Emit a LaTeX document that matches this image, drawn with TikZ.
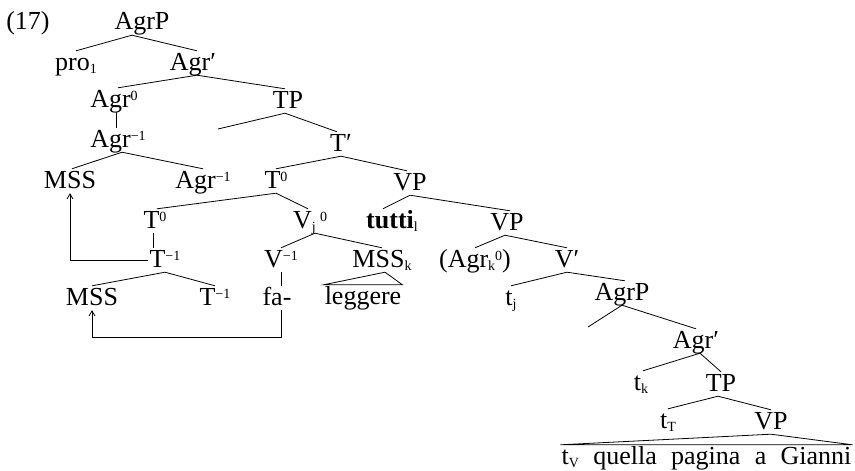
\documentclass[tikz,border=0pt]{standalone}
\usepackage{fontspec}
\setmainfont{Liberation Serif}
\usetikzlibrary{arrows.meta}
\newcommand{\supx}[1]{\raisebox{6.5pt}{\fontsize{14}{14}\selectfont #1}}
\newcommand{\subx}[1]{\raisebox{-3pt}{\fontsize{14}{14}\selectfont #1}}
\begin{document}
\begin{tikzpicture}[x=1pt,y=-1pt,
  lab/.style={font=\fontsize{26}{31}\selectfont, anchor=base, text height=17pt, text depth=3pt, inner xsep=1pt, inner ysep=2pt},
  br/.style={line width=0.8pt},
  mv/.style={line width=0.8pt, -{Straight Barb[length=5pt,width=6pt]}}]
\useasboundingbox (0,0) rectangle (855,471);
% nodes
\node[lab] (n17) at (28,30) {(17)};
\node[lab] (AgrP) at (142,30) {AgrP};
\node[lab] (pro) at (76,70) {pro\subx{1}};
\node[lab] (Agrb) at (193,70) {Agr′};
\node[lab] (Agr0) at (114,107) {Agr\supx{0}};
\node[lab] (TP) at (288,108) {TP};
\node[lab] (Agrm) at (118,147) {Agr\supx{−1}};
\node[lab] (Tb) at (341,151) {T′};
\coordinate (TPspec) at (218,129);
\node[lab] (MSSa) at (70,188) {MSS};
\node[lab] (Agrmb) at (203,188) {Agr\supx{−1}};
\node[lab] (T0) at (276,188) {T\supx{0}};
\node[lab] (VPa) at (410,190) {VP};
\node[lab] (T0b) at (155,228) {T\supx{0}};
\node[lab] (Vj) at (310,228) {V\subx{j}\,\supx{0}};
\node[lab] (tutti) at (392,228) {\textbf{tutti}\subx{l}};
\node[lab] (VPb) at (507,230) {VP};
\node[lab] (Tm) at (165,267) {T\supx{−1}};
\node[lab] (Vm) at (281,267) {V\supx{−1}};
\node[lab] (MSSk) at (382,267) {MSS\subx{k}};
\node[lab] (Agrk) at (475,267) {(Agr\subx{k}\supx{0})};
\node[lab] (Vb) at (567,267) {V′};
\node[lab] (MSSb) at (92,305) {MSS};
\node[lab] (Tmb) at (215,305) {T\supx{−1}};
\node[lab] (fa) at (277,305) {fa-};
\node[lab] (legg) at (363,304) {leggere};
\node[lab] (tj) at (511,305) {t\subx{j}};
\node[lab] (AgrPb) at (622,300) {AgrP};
\coordinate (AgrPspec) at (588,327);
\node[lab] (Agrc) at (696,348) {Agr′};
\node[lab] (tk) at (641,390) {t\subx{k}};
\node[lab] (TPb) at (721,391) {TP};
\node[lab] (tT) at (668,428) {t\subx{T}};
\node[lab] (VPc) at (771,429) {VP};
\node[lab] (bot) at (706.5,464) {\spaceskip=0.55em t\subx{V} quella pagina a Gianni};
\coordinate (turn) at (281,337);
% branches
\draw[br] ([xshift=-10pt]AgrP.south) -- (pro.north);
\draw[br] ([xshift=-10pt]AgrP.south) -- ([xshift=4pt]Agrb.north);
\draw[br] ([xshift=4pt]Agrb.south) -- ([xshift=4pt]Agr0.north);
\draw[br] ([xshift=4pt]Agrb.south) -- ([xshift=-3pt]TP.north);
\draw[br] ([xshift=2pt]Agr0.south) -- ([xshift=-2pt]Agrm.north);
\draw[br] ([xshift=4pt]Agrm.south) -- ([xshift=2pt]MSSa.north);
\draw[br] ([xshift=4pt]Agrm.south) -- (Agrmb.north);
\draw[br] ([xshift=-3pt]TP.south) -- (TPspec);
\draw[br] ([xshift=-3pt]TP.south) -- ([xshift=-4pt]Tb.north);
\draw[br] (Tb.south) -- (T0.north);
\draw[br] (Tb.south) -- ([xshift=-3pt]VPa.north);
\draw[br] (T0.south) -- ([xshift=2pt]T0b.north);
\draw[br] (T0.south) -- ([xshift=-2pt]Vj.north);
\draw[br] (VPa.south) -- ([xshift=-9pt]tutti.north);
\draw[br] (VPa.south) -- ([xshift=3pt]VPb.north);
\draw[br] ([xshift=-2pt]T0b.south) -- ([xshift=-12pt]Tm.north);
\draw[br] ([xshift=5pt]Vj.south) -- (Vm.north);
\draw[br] ([xshift=5pt]Vj.south) -- (MSSk.north);
\draw[br] ([xshift=-2pt]VPb.south) -- (Agrk.north);
\draw[br] ([xshift=-2pt]VPb.south) -- (Vb.north);
\draw[br] (Tm.south) -- (MSSb.north);
\draw[br] (Tm.south) -- (Tmb.north);
\draw[br] (Vm.south) -- ([xshift=4pt]fa.north);
\draw[br] ([xshift=3pt]MSSk.south) -- (legg.north west) -- (legg.north east) -- cycle;
\draw[br] (Vb.south) -- (tj.north);
\draw[br] (Vb.south) -- ([xshift=3pt]AgrPb.north);
\draw[br] (AgrPb.south) -- (AgrPspec);
\draw[br] (AgrPb.south) -- (Agrc.north);
\draw[br] ([xshift=4pt]Agrc.south) -- ([xshift=2pt]tk.north);
\draw[br] ([xshift=4pt]Agrc.south) -- (TPb.north);
\draw[br] ([xshift=-3pt]TPb.south) -- (tT.north);
\draw[br] ([xshift=-3pt]TPb.south) -- (VPc.north);
\draw[br] (VPc.south) -- (bot.north west) -- (bot.north east) -- cycle;
% movement arrows
\draw[mv] (Tm.west) -| (MSSa.south);
\draw[mv] ([xshift=4pt]fa.south) -- (turn) -| (MSSb.south);
\end{tikzpicture}
\end{document}
